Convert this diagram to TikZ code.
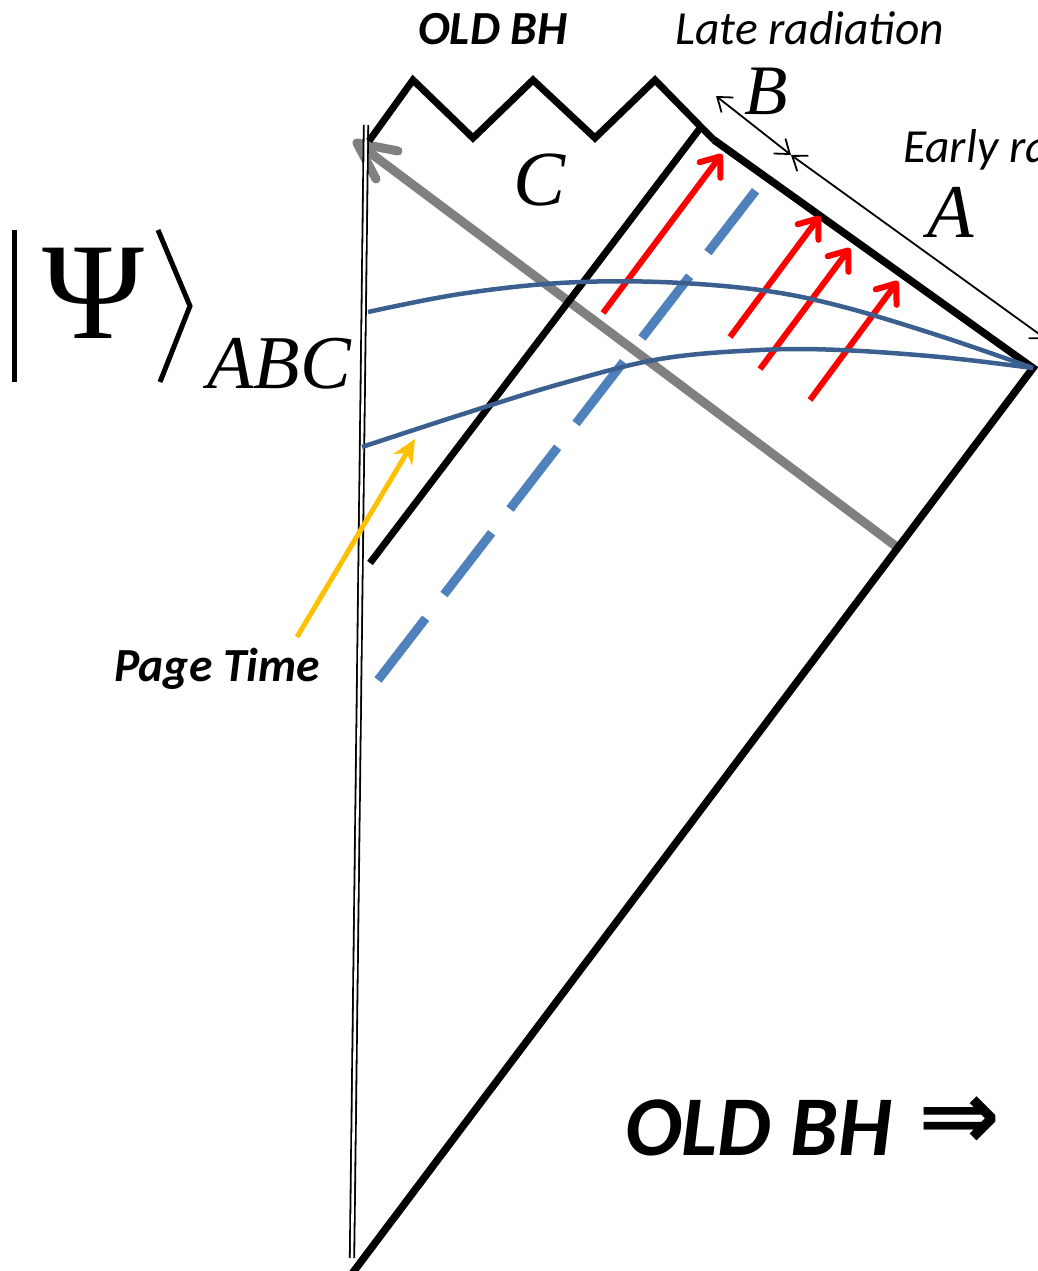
\documentclass[tikz,border=0pt]{standalone}
\usepackage{fontspec}
\setmainfont{Carlito}
\newfontfamily\serifx{Liberation Serif}
\newfontfamily\arrowfont{DejaVu Sans}
\usetikzlibrary{arrows.meta}
\definecolor{curveblue}{HTML}{3B5F8E}
\definecolor{dashblue}{HTML}{4F81BD}
\definecolor{pagegold}{HTML}{FFC000}
\definecolor{grayarr}{HTML}{808080}
\definecolor{redarr}{HTML}{FF0000}
\tikzset{
  lbl/.style={inner sep=0pt, anchor=base west},
  sanslbl/.style={lbl, font=\fontsize{47.5pt}{50pt}\selectfont\itshape},
  boldlbl/.style={lbl, font=\fontsize{47.5pt}{50pt}\selectfont\bfseries\itshape},
  letterlbl/.style={lbl, font=\serifx\itshape},
  bhline/.style={line width=7pt, black},
  redray/.style={redarr, line width=6pt, -{Straight Barb[length=17pt,width=26pt,line cap=round,line join=round]}},
  thinarr/.style={line width=1.8pt, {Straight Barb[length=13pt,width=19pt]}-{Straight Barb[length=13pt,width=19pt]}},
  slice/.style={curveblue, line width=4.5pt},
  grayline/.style={grayarr, line width=9pt},
}
\begin{document}
\begin{tikzpicture}[x=1pt,y=-1pt]
\clip (0,0) rectangle (1038,1271);
% coordinates
\coordinate (dtop) at (366,125);
\coordinate (dbot) at (352,1258);
\coordinate (z0) at (369,141);
\coordinate (kink) at (701,127);
\coordinate (btip) at (714,140);
\coordinate (rc) at (1033,368);
\coordinate (bot) at (351,1275);
\coordinate (hbot) at (370,563);
\coordinate (gtail) at (897,547);
\coordinate (ghead) at (357,143);
\coordinate (gbarb1) at (398,151);
\coordinate (gbarb2) at (376,179);
\coordinate (dashs) at (378,680);
\coordinate (dashe) at (760,185);

% gray arrow
\draw[grayline] (gtail) -- (ghead);
\draw[grayline, line cap=round, line join=round] (gbarb1) -- (ghead) -- (gbarb2);

% double line (worldline)
\draw[double=white, double distance=2.6pt, line width=1.8pt] (dtop) -- (dbot);

% Penrose boundary
\draw[bhline] (z0) -- (413,80) -- (473,138) -- (533,80) -- (595,138) -- (655,80) -- (kink) -- (btip);
\draw[bhline, line width=7.5pt] (btip) -- (rc) -- (bot);
\draw[bhline] (kink) -- (hbot);

% dashed blue
\draw[dashblue, line width=9pt, dash pattern=on 78pt off 30pt] (dashs) -- (dashe);

% red rays
\draw[redray] (603,313) -- (722,154);
\draw[redray] (730,337) -- (820,216);
\draw[redray] (760,369) -- (850,248);
\draw[redray] (810,400) -- (898,281);

% slices
\draw[slice] plot[smooth, tension=0.6] coordinates {(368,312) (460,294) (560,283) (660,282) (760,290) (840,306) (940,336) (1033,368)};
\draw[slice] plot[smooth, tension=0.6] coordinates {(362,447) (460,415) (560,384) (660,359) (760,350) (840,350) (940,357) (1033,368)};

% radiation arrows
\coordinate (bA) at (716,96);
\coordinate (mid) at (791,155);
\coordinate (aend) at (1046,339);
\draw[thinarr] (bA) -- (mid);
\draw[thinarr] (mid) -- (aend);

% page time arrow
\coordinate (ptail) at (297,637);
\coordinate (phead) at (415,439);
\draw[pagegold, line width=5pt, -{Stealth[length=24pt,width=22pt]}] (ptail) -- (phead);

% texts
\node[boldlbl] (oldbh) at (418,45) {OLD BH};
\node[sanslbl] (late) at (675,45) {Late radiation};
\node[sanslbl] (early) at (903,162) {Early radiation};
\node[letterlbl, font=\serifx\itshape\fontsize{71pt}{75pt}\selectfont] (B) at (744,115) {B};
\node[letterlbl, font=\serifx\itshape\fontsize{76pt}{80pt}\selectfont] (A) at (927,237) {A};
\node[letterlbl, font=\serifx\itshape\fontsize{78pt}{82pt}\selectfont] (C) at (513,205) {C};
\node[boldlbl] (page) at (114,681) {Page Time};

% ket
\draw[line width=5pt] (14,230) -- (14,382);
\draw[line width=5pt] (158,230) -- (190,306) -- (160,382);
\node[lbl, font=\serifx\fontsize{138pt}{140pt}\selectfont] (psi) at (42,338) {Ψ};
\node[letterlbl, font=\serifx\itshape\fontsize{76pt}{80pt}\selectfont] (abc) at (207,388) {ABC};

% bottom label
\node[lbl, font=\fontsize{85pt}{90pt}\selectfont\bfseries\itshape] (oldbh2) at (625,1155) {OLD BH};
\node[inner sep=0pt, font=\arrowfont\bfseries\fontsize{98pt}{100pt}\selectfont] (impl) at (960,1123) {⇒};
\end{tikzpicture}
\end{document}
